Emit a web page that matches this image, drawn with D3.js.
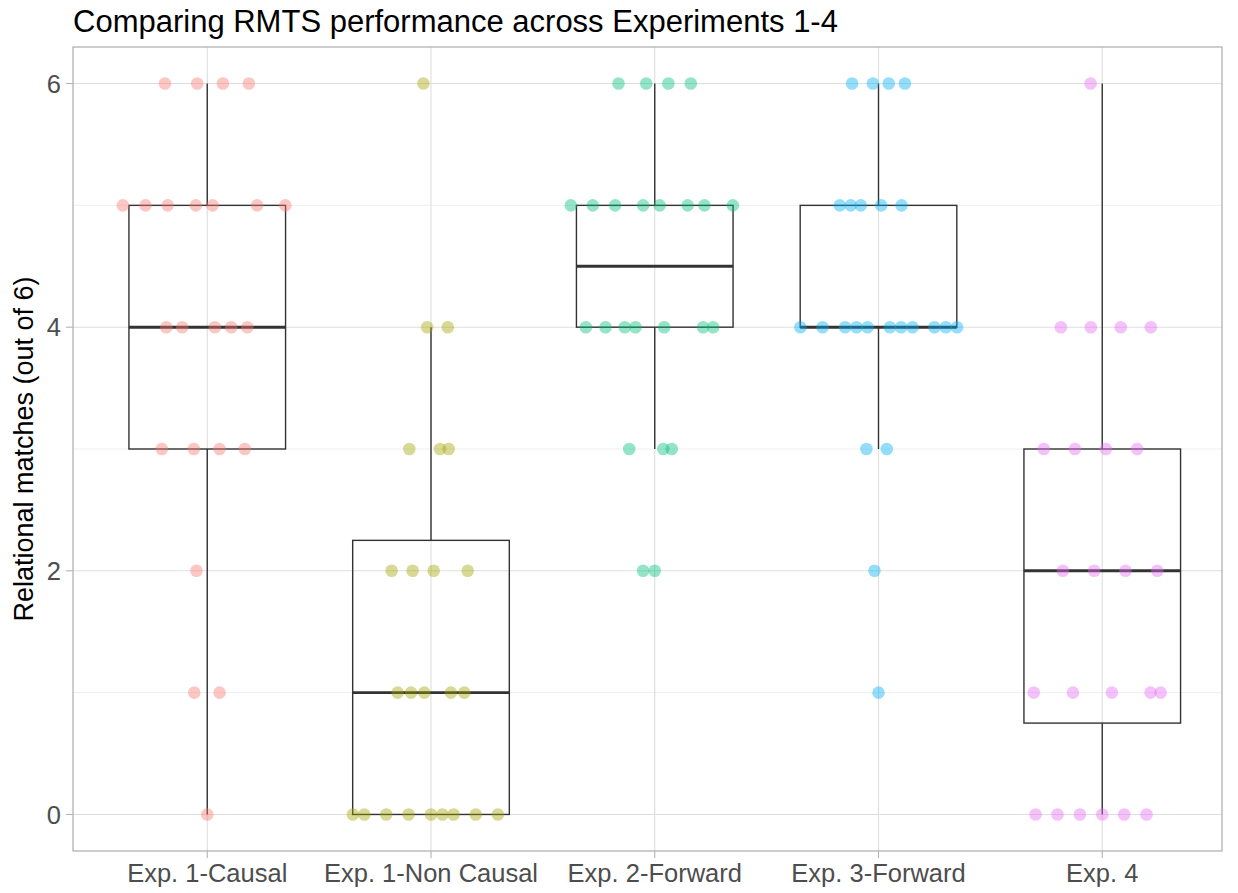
<!DOCTYPE html>
<html>
<head>
<meta charset="utf-8">
<script src="https://cdn.jsdelivr.net/npm/d3@7"></script>
<style>
  body { margin: 0; background: #fff; }
  text { font-family: "Liberation Sans", Arial, sans-serif; }
</style>
</head>
<body>
<div id="chart"></div>
<script>
// categories and colours (ggplot default hue palette)
var groups = ["Exp. 1-Causal", "Exp. 1-Non Causal", "Exp. 2-Forward", "Exp. 3-Forward", "Exp. 4"];
var colors = ["#F8766D", "#A3A500", "#00BF7D", "#00B0F6", "#E76BF3"];
var yTicks = [0, 2, 4, 6];

// scores per group, listed by score level
var exp1Causal = [6,6,6,6, 5,5,5,5,5,5,5, 4,4,4,4,4, 3,3,3,3, 2, 1,1, 0];
var exp1NonCausal = [6, 4,4, 3,3,3, 2,2,2,2, 1,1,1,1,1, 0,0,0,0,0,0,0,0,0];
var exp2Forward = [6,6,6,6, 5,5,5,5,5,5,5,5, 4,4,4,4,4,4,4, 3,3,3, 2,2];
var exp3Forward = [6,6,6,6, 5,5,5,5,5, 4,4,4,4,4,4,4,4,4,4,4, 3,3, 2, 1];
var exp4 = [6, 4,4,4,4, 3,3,3,3, 2,2,2,2, 1,1,1,1,1, 0,0,0,0,0,0];

// horizontal jitter of each point (in category units), same order as the scores
var jit1 = [-0.189,-0.045,0.070,0.186, -0.377,-0.276,-0.177,-0.051,0.024,0.223,0.349,
  -0.183,-0.112,0.034,0.107,0.179, -0.203,-0.060,0.055,0.168, -0.048, -0.058,0.055, 0];
var jit2 = [-0.034, -0.017,0.075, -0.097,0.040,0.079, -0.176,-0.082,0.012,0.164,
  -0.149,-0.089,-0.030,0.089,0.149, -0.349,-0.298,-0.200,-0.100,0,0.051,0.101,0.200,0.299];
var jit3 = [-0.162,-0.038,0.061,0.161, -0.375,-0.277,-0.177,-0.052,0.022,0.147,0.222,0.349,
  -0.308,-0.220,-0.134,-0.086,0.042,0.216,0.261, -0.114,0.038,0.076, -0.052,0];
var jit4 = [-0.118,-0.025,0.046,0.118, -0.173,-0.124,-0.079,0.012,0.103,
  -0.349,-0.250,-0.149,-0.098,-0.049,0.051,0.101,0.152,0.250,0.301,0.351, -0.054,0.037, -0.018, 0];
var jit5 = [-0.052, -0.185,-0.051,0.083,0.217, -0.261,-0.122,0.016,0.156,
  -0.176,-0.036,0.104,0.246, -0.306,-0.131,0.043,0.216,0.261, -0.298,-0.200,-0.100,0,0.098,0.198];

var scores = [exp1Causal, exp1NonCausal, exp2Forward, exp3Forward, exp4];
var jitters = [jit1, jit2, jit3, jit4, jit5];

var width = 1238, height = 893;
var margin = {top: 47, right: 16, bottom: 42, left: 73};

var svg = d3.select("#chart").append("svg")
    .attr("width", width)
    .attr("height", height);

var x = d3.scaleLinear()
    .domain([0.4, 5.6])
    .range([margin.left, margin.left + 5.2 * 223.75]);
var y = d3.scaleLinear()
    .domain([-0.3, 6.3])
    .range([height - margin.bottom, margin.top]);

var panelRight = width - margin.right;

// grid
var grid = svg.append("g");
grid.selectAll(".minor").data([1, 3, 5]).enter().append("line")
    .attr("x1", margin.left).attr("x2", panelRight)
    .attr("y1", function(d) { return y(d); }).attr("y2", function(d) { return y(d); })
    .attr("stroke", "#ebebeb").attr("stroke-width", 0.8);
grid.selectAll(".major").data(yTicks).enter().append("line")
    .attr("x1", margin.left).attr("x2", panelRight)
    .attr("y1", function(d) { return y(d); }).attr("y2", function(d) { return y(d); })
    .attr("stroke", "#dedede").attr("stroke-width", 1.1);
grid.selectAll(".vmajor").data(groups).enter().append("line")
    .attr("x1", function(d, i) { return x(i + 1); }).attr("x2", function(d, i) { return x(i + 1); })
    .attr("y1", margin.top).attr("y2", height - margin.bottom)
    .attr("stroke", "#dedede").attr("stroke-width", 1.1);

// box stats, same as R's default quantiles
function stats(v) {
  var s = v.slice().sort(d3.ascending);
  var q1 = d3.quantile(s, 0.25), med = d3.quantile(s, 0.5), q3 = d3.quantile(s, 0.75);
  var iqr = q3 - q1;
  var lo = d3.min(s.filter(function(d) { return d >= q1 - 1.5 * iqr; }));
  var hi = d3.max(s.filter(function(d) { return d <= q3 + 1.5 * iqr; }));
  return {q1: q1, med: med, q3: q3, lo: lo, hi: hi};
}

var boxHalf = 0.35;
var boxes = svg.append("g").selectAll("g").data(scores).enter().append("g");
boxes.each(function(v, i) {
  var st = stats(v), g = d3.select(this), cx = x(i + 1);
  g.append("line").attr("x1", cx).attr("x2", cx).attr("y1", y(st.q3)).attr("y2", y(st.hi))
    .attr("stroke", "#333333").attr("stroke-width", 1.4);
  g.append("line").attr("x1", cx).attr("x2", cx).attr("y1", y(st.q1)).attr("y2", y(st.lo))
    .attr("stroke", "#333333").attr("stroke-width", 1.4);
  g.append("rect")
    .attr("x", x(i + 1 - boxHalf)).attr("width", x(i + 1 + boxHalf) - x(i + 1 - boxHalf))
    .attr("y", y(st.q3)).attr("height", y(st.q1) - y(st.q3))
    .attr("fill", "none").attr("stroke", "#333333").attr("stroke-width", 1.4);
  g.append("line").attr("x1", x(i + 1 - boxHalf)).attr("x2", x(i + 1 + boxHalf))
    .attr("y1", y(st.med)).attr("y2", y(st.med))
    .attr("stroke", "#333333").attr("stroke-width", 2.9);
});

// points
var pts = [];
scores.forEach(function(v, i) {
  v.forEach(function(s, j) { pts.push({g: i, v: s, j: jitters[i][j]}); });
});
svg.append("g").selectAll("circle").data(pts).enter().append("circle")
    .attr("cx", function(d) { return x(d.g + 1 + d.j); })
    .attr("cy", function(d) { return y(d.v); })
    .attr("r", 6.3)
    .attr("fill", function(d) { return colors[d.g]; })
    .attr("fill-opacity", 0.42);

// panel border
svg.append("rect")
    .attr("x", margin.left).attr("y", margin.top)
    .attr("width", panelRight - margin.left).attr("height", height - margin.bottom - margin.top)
    .attr("fill", "none").attr("stroke", "#b3b3b3").attr("stroke-width", 1.3);

// y axis
var yAxis = svg.append("g").selectAll("g").data(yTicks).enter().append("g");
yAxis.append("line")
    .attr("x1", margin.left - 7).attr("x2", margin.left)
    .attr("y1", function(d) { return y(d); }).attr("y2", function(d) { return y(d); })
    .attr("stroke", "#b3b3b3").attr("stroke-width", 1.1);
yAxis.append("text")
    .attr("x", margin.left - 12).attr("y", function(d) { return y(d); })
    .attr("dy", "0.36em").attr("text-anchor", "end")
    .attr("font-size", 25.5).attr("fill", "#4d4d4d")
    .text(function(d) { return d; });

// x axis
var xAxis = svg.append("g").selectAll("g").data(groups).enter().append("g");
xAxis.append("line")
    .attr("x1", function(d, i) { return x(i + 1); }).attr("x2", function(d, i) { return x(i + 1); })
    .attr("y1", height - margin.bottom).attr("y2", height - margin.bottom + 7)
    .attr("stroke", "#b3b3b3").attr("stroke-width", 1.1);
xAxis.append("text")
    .attr("x", function(d, i) { return x(i + 1); }).attr("y", 882)
    .attr("text-anchor", "middle")
    .attr("font-size", 25.5).attr("fill", "#4d4d4d")
    .text(function(d) { return d; });

// titles
svg.append("text")
    .attr("transform", "translate(33," + ((margin.top + height - margin.bottom) / 2) + ") rotate(-90)")
    .attr("text-anchor", "middle")
    .attr("font-size", 27).attr("fill", "#000")
    .text("Relational matches (out of 6)");

svg.append("text")
    .attr("x", margin.left).attr("y", 32)
    .attr("font-size", 31).attr("fill", "#000")
    .text("Comparing RMTS performance across Experiments 1-4");
</script>
</body>
</html>
